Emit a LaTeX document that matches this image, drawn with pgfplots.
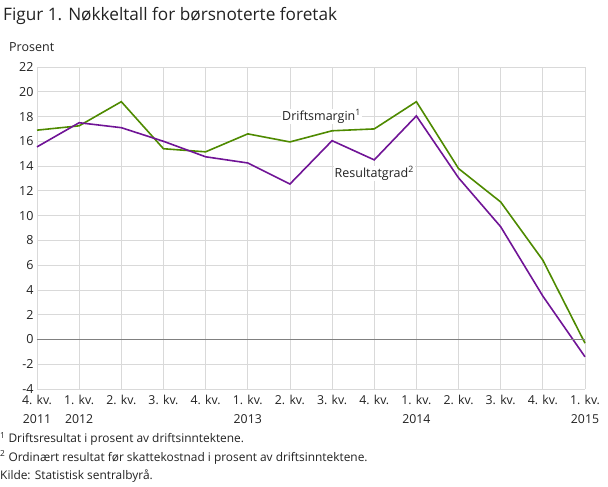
\documentclass[border=0pt]{standalone}
\usepackage{pgfplots}
\pgfplotsset{compat=1.18}
\usepackage{fontspec}
\setmainfont{Open Sans}
\definecolor{drift}{RGB}{78,138,0}
\definecolor{res}{RGB}{112,20,150}
\definecolor{txt}{RGB}{34,34,34}
\begin{document}
\begin{tikzpicture}[x=1pt,y=1pt]
\useasboundingbox (-37,-98) rectangle (571,389);
\begin{axis}[
    at={(0,0)}, anchor=south west,
    scale only axis,
    width=548pt, height=322pt,
    xmin=0, xmax=13,
    ymin=-4, ymax=22,
    ytick={-4,-2,...,22},
    xtick={0,...,13},
    xticklabels={4. kv.\\2011, 1. kv.\\2012, 2. kv., 3. kv., 4. kv., 1. kv.\\2013, 2. kv., 3. kv., 4. kv., 1. kv.\\2014, 2. kv., 3. kv., 4. kv., 1. kv.\\2015},
    xticklabel style={align=center, font=\fontsize{12.3}{19}\selectfont, text=txt, anchor=north, yshift=-3pt},
    yticklabel style={font=\fontsize{12.5}{15}\selectfont, text=txt},
    /pgf/number format/assume math mode=true,
    grid=major,
    grid style={draw=black!15, line width=0.8pt},
    axis line style={draw=none},
    major tick length=0pt,
    tick style={draw=none},
    clip=false,
]
\addplot[drift, line width=1.6pt] coordinates {
    (0,16.9) (1,17.25) (2,19.2) (3,15.4) (4,15.15) (5,16.6) (6,15.95)
    (7,16.85) (8,17.0) (9,19.2) (10,13.8) (11,11.1) (12,6.4) (13,-0.3)
};
\addplot[res, line width=1.6pt] coordinates {
    (0,15.55) (1,17.5) (2,17.1) (3,16.0) (4,14.75) (5,14.25) (6,12.55)
    (7,16.05) (8,14.5) (9,18.05) (10,13.05) (11,9.1) (12,3.5) (13,-1.4)
};
\draw[black!50, line width=0.8pt] (axis cs:0,0) -- (axis cs:13,0);
\node[font=\fontsize{12.5}{15}\selectfont, text=txt, fill=white, inner sep=1pt] at (axis cs:6.75,18.0) {Driftsmargin\textsuperscript{1}};
\node[font=\fontsize{12.5}{15}\selectfont, text=txt, fill=white, inner sep=1pt] at (axis cs:8.0,13.4) {Resultatgrad\textsuperscript{2}};
\end{axis}
\node[anchor=north west, inner sep=0pt, font=\fontsize{17.2}{20}\selectfont, text=txt] at (-34,382) {Figur 1. Nøkkeltall for børsnoterte foretak};
\node[anchor=north west, inner sep=0pt, font=\fontsize{12.5}{15}\selectfont, text=txt] at (-28,347) {Prosent};
\node[anchor=north west, inner sep=0pt, align=left, font=\fontsize{11.9}{18.5}\selectfont, text=txt] at (-37,-43) {\textsuperscript{1} Driftsresultat i prosent av driftsinntektene.\\\textsuperscript{2} Ordinært resultat før skattekostnad i prosent av driftsinntektene.\\Kilde: Statistisk sentralbyrå.};
\end{tikzpicture}
\end{document}
